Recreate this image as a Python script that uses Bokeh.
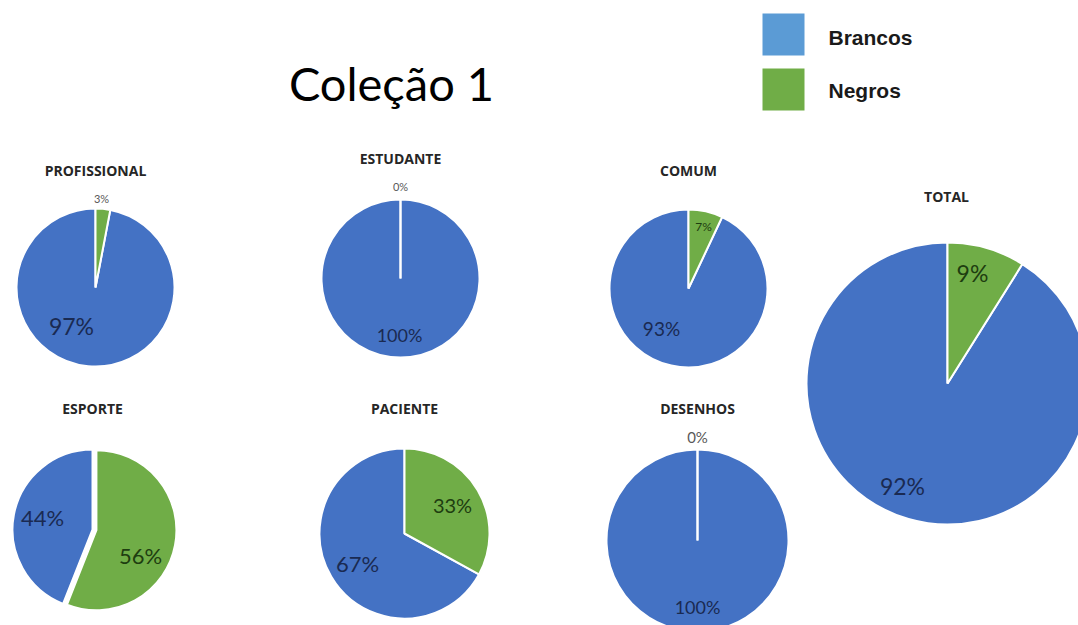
import math
from bokeh.plotting import figure
from bokeh.models import Range1d, ColumnDataSource
from bokeh.core.properties import value
from bokeh.embed import file_html
from bokeh.resources import INLINE

# ---- data ----
categories = ["PROFISSIONAL", "ESTUDANTE", "COMUM", "TOTAL", "ESPORTE", "PACIENTE", "DESENHOS"]
brancos = [97, 100, 93, 92, 44, 67, 100]
negros = [3, 0, 7, 9, 56, 33, 0]
series_names = ["Brancos", "Negros"]
title_text = "Coleção 1"

# ---- layout (pixel positions, y measured from top) ----
W, H = 1078, 625
centers = [(95, 287), (400, 278), (688, 288), (947, 383), (92, 529), (404, 533), (697, 540)]
radii = [79, 79, 79, 141, 80, 85, 91]
title_pos = [(95, 170), (400, 158), (688, 170), (946, 196), (92, 408), (404, 408), (697, 408)]
explode = [0, 0, 0, 0, 4, 0, 0]
lab_b = [(71, 325), (399, 334), (661, 328), (902, 485), (42, 517), (357, 563), (697, 606)]
lab_n = [(101, 198), (400, 186), (703, 226), (972, 272), (140, 555), (452, 504), (697, 436)]
size_b = ["23px", "18px", "19px", "23px", "22px", "22px", "18px"]
size_n = ["11px", "11px", "12px", "23px", "22px", "20px", "15px"]
col_n_lab = ["#595959", "#595959", "#1e3d10", "#1e3d10", "#1e3d10", "#1e3d10", "#595959"]

BLUE = "#4472C4"
GREEN = "#70AD47"
LEG_BLUE = "#5B9BD5"

p = figure(width=W, height=H, output_backend="svg", toolbar_location=None,
           x_range=Range1d(0, W), y_range=Range1d(0, H),
           x_axis_location=None, y_axis_location=None, min_border=0)
p.grid.visible = False
p.outline_line_color = None
p.background_fill_color = "white"
p.border_fill_color = "white"

def Y(py):
    return H - py

bx, by, br, bs, be = [], [], [], [], []
gx, gy, gr, gs, ge = [], [], [], [], []
for i in range(len(categories)):
    tot = brancos[i] + negros[i]
    g = negros[i] / tot
    cx, cy = centers[i]
    r = radii[i]
    top = math.pi / 2
    g_start = top - 2 * math.pi * g
    bx.append(cx); by.append(Y(cy)); br.append(r)
    bs.append(top); be.append(g_start + 2 * math.pi - (1e-6 if g == 0 else 0))
    if g > 0:
        mid = (g_start + top) / 2
        gx.append(cx + explode[i] * math.cos(mid))
        gy.append(Y(cy) + explode[i] * math.sin(mid))
        gr.append(r); gs.append(g_start); ge.append(top)

p.wedge(x=bx, y=by, radius=br, start_angle=bs, end_angle=be,
        fill_color=BLUE, line_color="white", line_width=2)
p.wedge(x=gx, y=gy, radius=gr, start_angle=gs, end_angle=ge,
        fill_color=GREEN, line_color="white", line_width=2)
for i in range(len(categories)):
    if negros[i] == 0:
        cx, cy = centers[i]
        p.segment(x0=[cx], y0=[Y(cy)], x1=[cx], y1=[Y(cy) + radii[i]],
                  line_color="white", line_width=2)

# category titles
p.text(x=[t[0] for t in title_pos], y=[Y(t[1]) for t in title_pos], text=categories,
       text_align="center", text_baseline="middle", text_font=value("Open Sans"),
       text_font_style="bold", text_font_size="14px", text_color="#262626")

# slice labels
src_b = ColumnDataSource(dict(x=[l[0] for l in lab_b], y=[Y(l[1]) for l in lab_b],
                              t=[f"{v}%" for v in brancos], s=size_b))
p.text(x="x", y="y", text="t", source=src_b, text_font_size="s",
       text_align="center", text_baseline="middle", text_font=value("Lato"),
       text_color="#1a2a52")
src_n = ColumnDataSource(dict(x=[l[0] for l in lab_n], y=[Y(l[1]) for l in lab_n],
                              t=[f"{v}%" for v in negros], s=size_n, c=col_n_lab))
p.text(x="x", y="y", text="t", source=src_n, text_font_size="s", text_color="c",
       text_align="center", text_baseline="middle", text_font=value("Lato"))

# main title
p.text(x=[391], y=[Y(82)], text=[title_text], text_align="center", text_baseline="middle",
       text_font=value("Lato"), text_font_size="47px", text_color="black")

# legend
p.rect(x=[783, 783], y=[Y(34), Y(89)], width=42, height=42,
       fill_color=[LEG_BLUE, GREEN], line_color=None)
p.text(x=[828, 828], y=[Y(37), Y(90)], text=series_names, text_align="left",
       text_baseline="middle", text_font=value("Liberation Sans"), text_font_style="bold",
       text_font_size="21px", text_color="#1a1a1a")

open("out.html", "w").write(file_html(p, INLINE))
